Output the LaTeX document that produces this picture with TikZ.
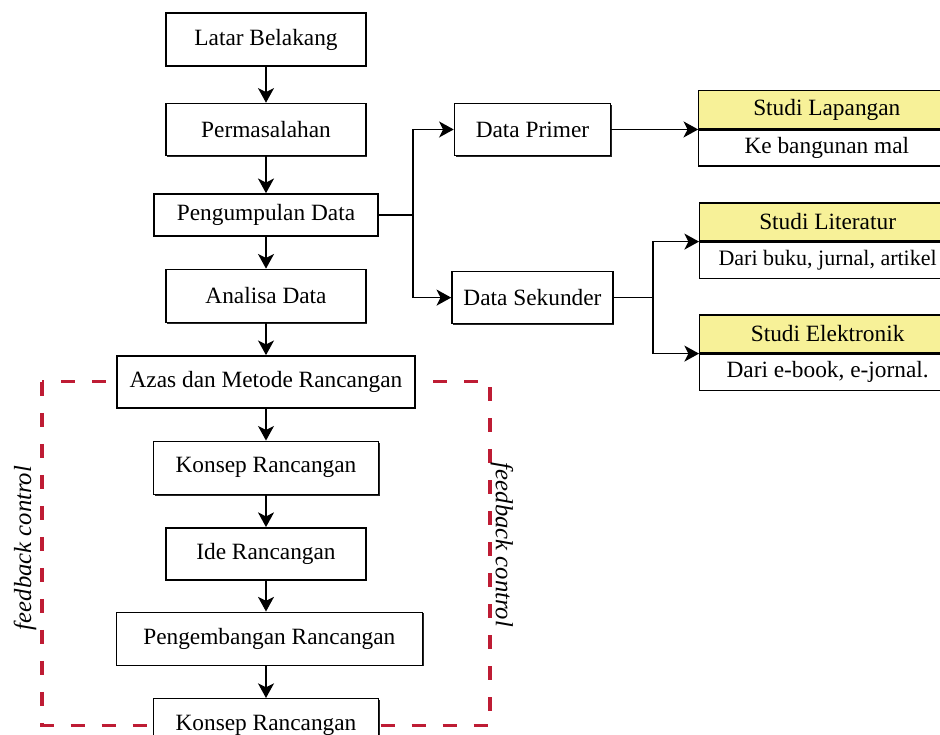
\documentclass[tikz,border=0pt]{standalone}
\usepackage{fontspec}
\setmainfont{Liberation Serif}
\usetikzlibrary{positioning, arrows.meta, shadows, backgrounds, calc}
\definecolor{hdryellow}{RGB}{247,241,152}
\definecolor{fbred}{RGB}{190,28,52}

\begin{document}
\begin{tikzpicture}[
        x=0.75pt, y=-0.75pt,
        >={Stealth[length=11pt, width=12pt, inset=3pt]},
        stepbox/.style={rectangle, draw, line width=1.1pt, fill=white, inner sep=0pt, minimum height=39.75pt, align=center, font=\fontsize{17.5}{20}\selectfont, general shadow={fill=black!85, shadow xshift=0.9pt, shadow yshift=-0.9pt}},
        headbox/.style={rectangle, draw, line width=0.9pt, fill=hdryellow, inner sep=0pt, minimum width=192pt, minimum height=28.5pt, font=\fontsize{17.5}{20}\selectfont},
        bodybox/.style={headbox, fill=white, minimum height=27pt},
        flow/.style={->, line width=1.2pt},
        fbline/.style={draw=fbred, line width=2.4pt, dash pattern=on 10.5pt off 12.75pt},
        fblabel/.style={font=\fontsize{18.5}{21}\selectfont\itshape}
    ]
    \path[use as bounding box, clip] (0,0) rectangle (940,735);

    % Main column
    \node[stepbox, minimum width=150pt] (latar) at (266,39.5) {Latar Belakang};
    \node[stepbox, minimum width=150pt, minimum height=39pt, below=27pt of latar] (perm) {Permasalahan};
    \node[stepbox, minimum width=168pt, minimum height=31.5pt, below=27.75pt of perm] (kumpul) {Pengumpulan Data};
    \node[stepbox, minimum width=150pt, below=24pt of kumpul] (analisa) {Analisa Data};
    \node[stepbox, minimum width=223.5pt, minimum height=39pt, below=24pt of analisa] (azas) {Azas dan Metode Rancangan};
    \node[stepbox, minimum width=168.75pt, below=24pt of azas] (konsep) {Konsep Rancangan};
    \node[stepbox, minimum width=150pt, minimum height=39pt, below=24pt of konsep] (ide) {Ide Rancangan};
    \node[stepbox, minimum width=229.5pt, below=23.25pt of ide, xshift=2.5pt] (kembang) {Pengembangan Rancangan};
    \node[stepbox, minimum width=168.75pt, below=24pt of kembang, xshift=-2.5pt] (konsep2) {Konsep Rancangan};

    % Data branches
    \node[stepbox, minimum width=117pt, minimum height=39pt, right=65.25pt of perm] (primer) {Data Primer};
    \node[stepbox, minimum width=120.75pt, minimum height=39pt, below=86pt of primer] (sekunder) {Data Sekunder};
    \coordinate[right=25.5pt of kumpul] (fork1);
    \coordinate[right=29.5pt of sekunder] (fork2);

    % Studi boxes
    \node[headbox, right=65.25pt of primer.east, anchor=south west] (lapHead) {Studi Lapangan};
    \node[bodybox, below=0pt of lapHead] (lapBody) {Ke bangunan mal};
    \node[headbox, above right=42pt and 34.5pt of fork2] (litHead) {Studi Literatur};
    \node[bodybox, below=0pt of litHead, font=\fontsize{16.5}{19}\selectfont] (litBody) {Dari buku, jurnal, artikel};
    \node[headbox, below right=42pt and 34.5pt of fork2, anchor=south west] (elekHead) {Studi Elektronik};
    \node[bodybox, below=0pt of elekHead] (elekBody) {Dari e-book, e-jornal.};

    % Feedback labels
    \node[fblabel, rotate=90] (fbLeft) at (25,548) {feedback control};
    \node[fblabel, rotate=-90] (fbRight) at (502,545) {feedback control};

    % Flow
    \draw[flow] (latar) -- (perm);
    \draw[flow] (perm) -- (kumpul);
    \draw[flow] (kumpul) -- (analisa);
    \draw[flow] (analisa) -- (azas);
    \draw[flow] (azas) -- (konsep);
    \draw[flow] (konsep) -- (ide);
    \draw[flow] (ide) -- (kembang.north -| ide);
    \draw[flow] (kembang.south -| ide) -- (konsep2.north -| ide);

    \draw[line width=1.2pt] (kumpul) -- (fork1);
    \draw[flow] (fork1) |- (primer);
    \draw[flow] (fork1) |- (sekunder);
    \draw[flow] (primer) -- (lapHead.south west);
    \draw[line width=1.2pt] (sekunder) -- (fork2);
    \draw[flow] (fork2) |- (litHead.south west);
    \draw[flow] (fork2) |- (elekHead.south west);

    % Feedback frame
    \begin{scope}[on background layer]
        \draw[fbline] ($(azas.center)+(-224,0)$) rectangle ($(konsep2.center)+(224,0)$);
    \end{scope}

\end{tikzpicture}
\end{document}
